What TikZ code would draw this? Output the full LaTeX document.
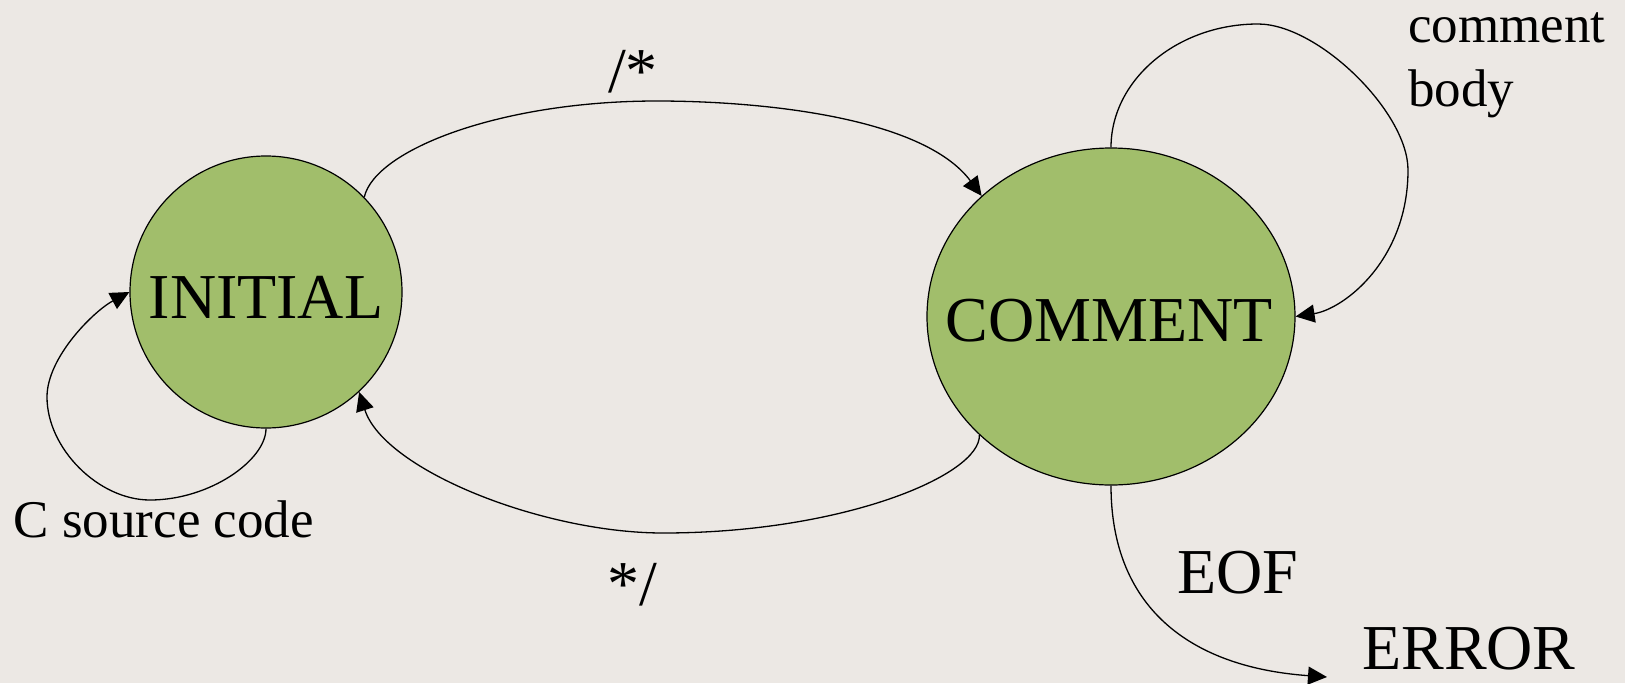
\documentclass[tikz,border=0pt]{standalone}
\usepackage{fontspec}
\setmainfont{Liberation Serif}
\usetikzlibrary{shapes.geometric,arrows.meta}

\definecolor{paper}{RGB}{236,232,228}
\definecolor{statefill}{RGB}{161,190,107}

\tikzset{
  statebox/.style={draw=black, fill=statefill, line width=1.2pt, inner sep=0pt},
  bigtext/.style={inner sep=0pt, font=\fontsize{64}{77}\selectfont},
  smalltext/.style={inner sep=0pt, font=\fontsize{53}{64}\selectfont},
  edge/.style={draw=black, line width=1.3pt, -{Triangle[length=19pt,width=18pt]}},
}

\begin{document}
\begin{tikzpicture}[x=1pt, y=-1pt]
  % canvas
  \fill[paper] (0,0) rectangle (1625,683);
  \useasboundingbox (0,0) rectangle (1625,683);

  % states
  \node[statebox, circle, minimum size=272pt] (initial) at (266,292) {};
  \node[statebox, ellipse, minimum width=368pt, minimum height=337pt] (comment) at (1111,316.5) {};
  \node[bigtext, anchor=base] (initialtext) at (266,318) {INITIAL};
  \node[bigtext, anchor=base] (commenttext) at (1109,341) {COMMENT};

  % helper points along the curved connectors
  \coordinate (toppeak) at (657,101);
  \coordinate (botlow) at (663,533);
  \coordinate (loopA) at (150,500);
  \coordinate (loopB) at (47,397);
  \coordinate (loopC) at (1258,24);
  \coordinate (loopD) at (1408,170);
  \coordinate (errin) at (1327,677);

  % INITIAL -> COMMENT on "/*"
  \draw[edge] (initial.44.7) .. controls (375,150) and (500,101) .. (toppeak)
              .. controls (757,101) and (922,116) .. (comment.137);
  % COMMENT -> INITIAL on "*/"
  \draw[edge] (comment.222.4) .. controls (981,475) and (843,533) .. (botlow)
              .. controls (543,533) and (384,470) .. (initial.313.5);
  % INITIAL self loop
  \draw[edge] (initial.south) .. controls (266,460) and (210,500) .. (loopA)
              .. controls (98.5,500) and (47,448.5) .. (loopB)
              .. controls (47,357) and (94,311) .. (initial.west);
  % COMMENT self loop
  \draw[edge] (comment.north) .. controls (1111,80) and (1177,24) .. (loopC)
              .. controls (1318,24) and (1408,112) .. (loopD)
              .. controls (1408,260) and (1344,309) .. (comment.east);
  % COMMENT -> ERROR on EOF
  \draw[edge] (comment.south) .. controls (1111,605) and (1187,667) .. (errin);

  % edge labels
  \node[bigtext, anchor=base west] (opensym) at (608,92) {/*};
  \node[bigtext, anchor=base west] (closesym) at (607,605) {*/};
  \node[smalltext, anchor=base west] (srclabel) at (13.5,537) {C source code};
  \node[smalltext, anchor=base west] (bodylabelA) at (1408,42) {comment};
  \node[smalltext, anchor=base west] (bodylabelB) at (1408,106) {body};
  \node[bigtext, anchor=base west] (eoflabel) at (1177,593) {EOF};
  \node[bigtext, anchor=base west] (errorlabel) at (1362,669) {ERROR};
\end{tikzpicture}
\end{document}
